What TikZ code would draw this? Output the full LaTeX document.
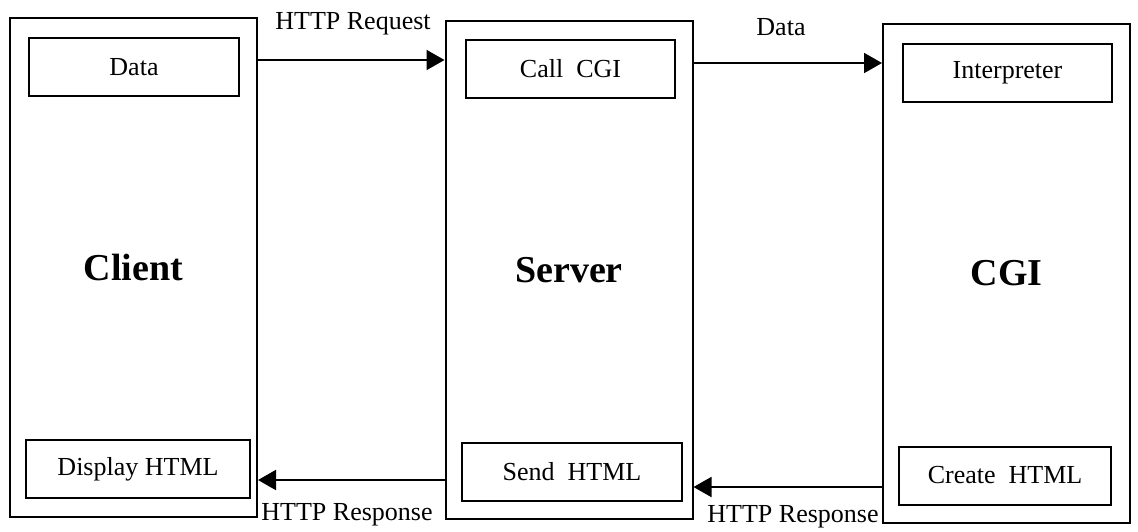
\documentclass[tikz,border=0pt]{standalone}
\usepackage{fontspec}
\setmainfont{Liberation Serif}
\usetikzlibrary{arrows.meta}

\begin{document}
\begin{tikzpicture}[x=0.5pt,y=-0.5pt,
		tier/.style={draw, line width=1pt, minimum width=123.5pt, minimum height=249.5pt,
			font=\fontsize{19}{23}\selectfont\bfseries},
		part/.style={draw, line width=1pt, minimum height=29pt, inner sep=0pt,
			font=\fontsize{13}{15}\selectfont},
		msg/.style={font=\fontsize{13}{15}\selectfont, inner sep=0pt},
		flow/.style={line width=0.9pt, -{Triangle[length=9pt,width=10pt]}}]
		\useasboundingbox (0,0) rectangle (1138,531);

		% the three tiers
		\node[tier] (client) at (133.5,267.5) {Client};
		\node[tier, minimum height=249pt] (server) at (569,270) {Server};
		\node[tier] (cgi) at (1006.5,273.5) {CGI};

		% what happens inside each tier
		\node[part, minimum width=105pt] (data) at (134,67) {Data};
		\node[part, minimum width=112pt] (display) at (138,469) {Display HTML};
		\node[part, minimum width=104.5pt] (call) at (570.5,69) {Call~ CGI};
		\node[part, minimum width=110pt] (send) at (572,472) {Send~ HTML};
		\node[part, minimum width=104.5pt] (interp) at (1007.5,72.5) {Interpreter};
		\node[part, minimum width=106pt] (create) at (1005,475.5) {Create~ HTML};

		% requests and responses
		\draw[flow] (client.east |- 0,60) -- (server.west |- 0,60);
		\draw[flow] (server.east |- 0,63) -- (cgi.west |- 0,63);
		\draw[flow] (cgi.west |- 0,487) -- (server.east |- 0,487);
		\draw[flow] (server.west |- 0,480) -- (client.east |- 0,480);

		\begin{scope}[nodes=msg]
			\node (req) at (353,24) {HTTP Request};
			\node (fwd) at (781,27) {Data};
			\node (resp1) at (347,515) {HTTP Response};
			\node (resp2) at (793,517) {HTTP Response};
		\end{scope}

\end{tikzpicture}
\end{document}
